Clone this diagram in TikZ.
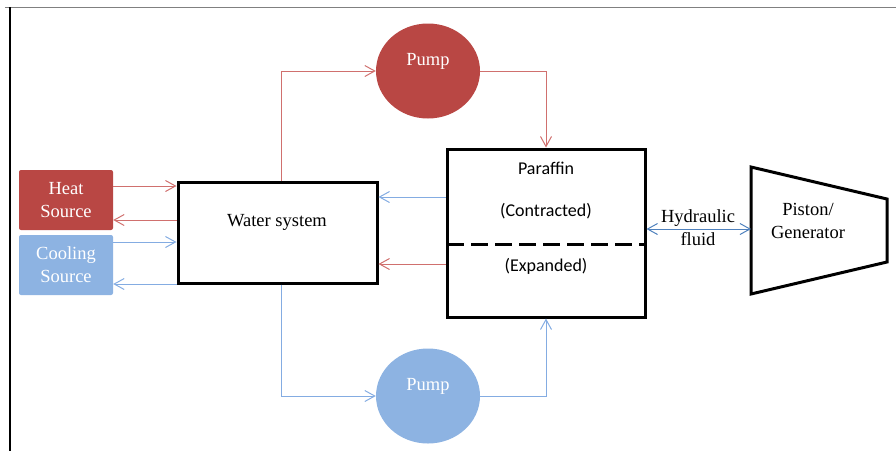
\documentclass[tikz,border=0pt]{standalone}
\usepackage{fontspec}
\setmainfont{Liberation Serif}
\newfontfamily\calfont{Carlito}
\usetikzlibrary{arrows.meta,shapes.geometric,calc}
\definecolor{hotfill}{RGB}{185,71,68}
\definecolor{coldfill}{RGB}{141,179,226}
\definecolor{hotline}{RGB}{208,112,110}
\definecolor{coldline}{RGB}{132,172,226}
\definecolor{hydline}{RGB}{79,129,189}
\tikzset{
  big/.style={font=\fontsize{18.5}{23}\selectfont},
  src/.style={big, rectangle, rounded corners=2pt, minimum width=94pt, minimum height=60pt, text=white, align=center, inner sep=0pt},
  blk/.style={rectangle, draw=black, line width=3pt, inner sep=0pt},
  pumpnode/.style={ellipse, minimum width=104pt, minimum height=95pt, inner sep=0pt},
  hotarrow/.style={draw=hotline, line width=1pt, -{Straight Barb[length=10pt,width=11pt]}},
  coldarrow/.style={draw=coldline, line width=1pt, -{Straight Barb[length=10pt,width=11pt]}},
  plain/.style={big, inner sep=0pt, align=center},
  paratext/.style={font=\calfont\fontsize{18}{22}\selectfont, inner sep=0pt},
}
\begin{document}
\begin{tikzpicture}[x=1pt,y=-1pt]
\useasboundingbox (0,0) rectangle (896,451);
% frame
\draw[gray, line width=1.5pt] (5,7.5) -- (896,7.5);
\draw[black, line width=2pt] (10,7) -- (10,451);
% sources
\node[src, fill=hotfill] (heat) at (66,200) {Heat\\Source};
\node[src, fill=coldfill] (cool) at (66,265) {Cooling\\Source};
% water system
\node[blk, minimum width=199pt, minimum height=101pt] (water) at (277.5,232.5) {};
\node[plain] (watertext) at (277,222) {Water system};
% pumps
\node[pumpnode, fill=hotfill, label={[big,text=white,yshift=10pt]center:Pump}] (pumpT) at (428,71) {};
\node[pumpnode, fill=coldfill, label={[big,text=white,yshift=10pt]center:Pump}] (pumpB) at (428,396) {};
% paraffin
\node[blk, minimum width=198pt, minimum height=168pt] (paraffin) at (546,233) {};
\coordinate (dl) at (447,244);
\coordinate (dr) at (645,244);
\draw[black, line width=3pt, dash pattern=on 17pt off 7pt] (dl) -- (dr);
\node[paratext] (ptitle) at (546,168) {Paraffin};
\node[paratext] (pcon) at (546,211) {(Contracted)};
\node[paratext] (pexp) at (546,266) {(Expanded)};
% piston
\coordinate (ptl) at (751,167);
\coordinate (pbl) at (751,294);
\coordinate (ptr) at (887,199);
\coordinate (pbr) at (887,262);
\draw[black, line width=3pt, line join=miter] (ptl) -- (ptr) -- (pbr) -- (pbl) -- cycle;
\node[plain] (pistontext) at (808,221) {Piston/\\Generator};
\coordinate (pin) at (751,229);
% hydraulic
\draw[draw=hydline, line width=1pt, {Straight Barb[length=10pt,width=11pt]}-{Straight Barb[length=10pt,width=11pt]}] ([yshift=4pt]paraffin.east) -- (pin);
\node[plain] (hydtext) at (698,228) {Hydraulic\\fluid};
% source connectors
\draw[hotarrow] ([yshift=14pt]heat.east) -- ([yshift=14pt]heat.east -| water.west);
\draw[hotarrow] ([yshift=-20pt]heat.east -| water.west) -- ([yshift=-20pt]heat.east);
\draw[coldarrow] ([yshift=23pt]cool.east) -- ([yshift=23pt]cool.east -| water.west);
\draw[coldarrow] ([yshift=-19pt]cool.east -| water.west) -- ([yshift=-19pt]cool.east);
% loops
\draw[hotarrow] ([xshift=3.5pt]water.north) |- (pumpT.west);
\draw[hotarrow] (pumpT.east) -| (paraffin.north);
\draw[coldarrow] ([xshift=3.5pt]water.south) |- (pumpB.west);
\draw[coldarrow] (pumpB.east) -| (paraffin.south);
\draw[coldarrow] ([yshift=36pt]paraffin.west) -- ([yshift=36pt]paraffin.west -| water.east);
\draw[hotarrow] ([yshift=-31pt]paraffin.west) -- ([yshift=-31pt]paraffin.west -| water.east);
\end{tikzpicture}
\end{document}
